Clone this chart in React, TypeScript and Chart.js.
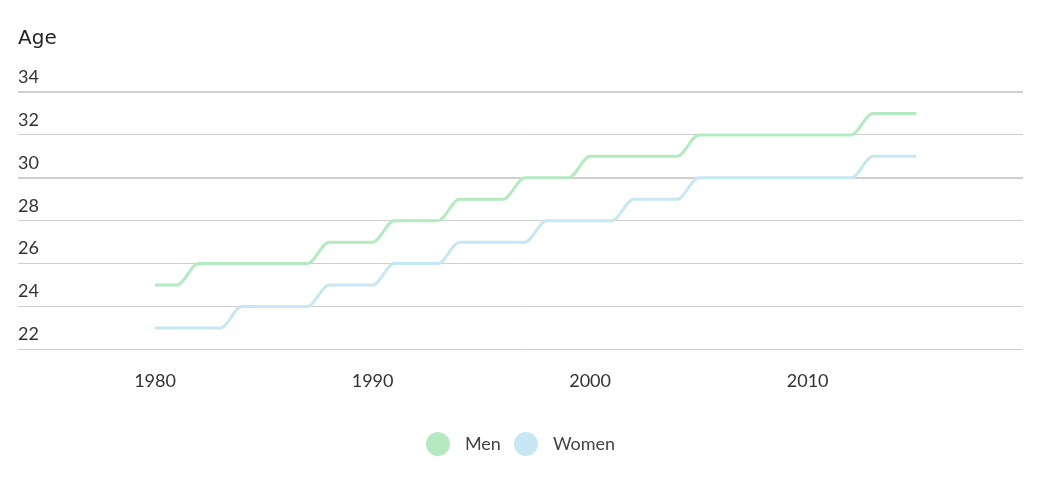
import { useEffect, useRef } from "react"
import { Chart, registerables } from "chart.js"

Chart.register(...registerables)

const years = [
  1980, 1981, 1982, 1983, 1984, 1985, 1986, 1987, 1988, 1989, 1990, 1991,
  1992, 1993, 1994, 1995, 1996, 1997, 1998, 1999, 2000, 2001, 2002, 2003,
  2004, 2005, 2006, 2007, 2008, 2009, 2010, 2011, 2012, 2013, 2014, 2015,
]
const men = [
  25, 25, 26, 26, 26, 26, 26, 26, 27, 27, 27, 28,
  28, 28, 29, 29, 29, 30, 30, 30, 31, 31, 31, 31,
  31, 32, 32, 32, 32, 32, 32, 32, 32, 33, 33, 33,
]
const women = [
  23, 23, 23, 23, 24, 24, 24, 24, 25, 25, 25, 26,
  26, 26, 27, 27, 27, 27, 28, 28, 28, 28, 29, 29,
  29, 30, 30, 30, 30, 30, 30, 30, 30, 31, 31, 31,
]
const seriesNames = ["Men", "Women"]
const seriesColors = ["#b5e9c0", "#c6e7f3"]
const yTicks = [22, 24, 26, 28, 30, 32, 34]

const FONT = "Lato, 'Noto Sans', sans-serif"

// legend marker: a circle with some room on its right before the text
function legendMarker(color: string) {
  const c = document.createElement("canvas")
  c.width = 30
  c.height = 24
  const g = c.getContext("2d")
  if (g) {
    g.fillStyle = color
    g.beginPath()
    g.arc(12, 12, 12, 0, Math.PI * 2)
    g.fill()
  }
  return c
}

export default function App() {
  const chartRef = useRef<HTMLCanvasElement>(null)
  const chartInstance = useRef<Chart | null>(null)

  useEffect(() => {
    document.body.style.margin = "0"
    if (!chartRef.current) return
    if (chartInstance.current) chartInstance.current.destroy()

    const ctx = chartRef.current.getContext("2d")
    if (!ctx) return

    const values = [men, women]

    chartInstance.current = new Chart(ctx, {
      type: "line",
      data: {
        labels: years,
        datasets: seriesNames.map((name, i) => ({
          label: name,
          data: years.map((y, j) => ({ x: y, y: values[i][j] })),
          borderColor: seriesColors[i],
          backgroundColor: seriesColors[i],
          borderWidth: 3,
          pointRadius: 0,
          cubicInterpolationMode: "monotone" as const,
          fill: false,
        })),
      },
      options: {
        animation: false,
        responsive: true,
        maintainAspectRatio: false,
        layout: {
          padding: { left: 18, right: 33, top: 0, bottom: 34 },
        },
        scales: {
          x: {
            type: "linear",
            min: 1973.7,
            max: 2019.9,
            grid: { display: false },
            border: { display: false },
            // empty title only used as spacing under the tick labels
            title: { display: true, text: "", font: { size: 17, lineHeight: 1 }, padding: 0 },
            ticks: {
              stepSize: 10,
              includeBounds: false,
              padding: 13,
              color: "#333",
              font: { family: FONT, size: 18 },
              callback: (v) => String(v),
            },
          },
          y: {
            min: 22,
            max: 34,
            afterBuildTicks: (axis) => {
              axis.ticks = yTicks.map((v) => ({ value: v }))
            },
            grid: {
              drawTicks: false,
              color: "#cfcfcf",
              lineWidth: (c) => (c.tick && (c.tick.value === 34 || c.tick.value === 30) ? 2 : 1),
            },
            border: { display: false },
            ticks: {
              mirror: true,
              padding: 0,
              labelOffset: -15,
              color: "#333",
              font: { family: FONT, size: 18 },
              callback: (v) => String(v),
            },
          },
        },
        plugins: {
          title: {
            display: true,
            text: "Age",
            align: "start",
            color: "#222",
            font: { family: "'DejaVu Sans', sans-serif", size: 20, weight: "normal" },
            padding: { top: 27, bottom: 41 },
          },
          legend: {
            position: "bottom",
            labels: {
              usePointStyle: true,
              pointStyleWidth: 30,
              padding: 13,
              color: "#444",
              font: { family: FONT, size: 18 },
              generateLabels: (chart) =>
                Chart.defaults.plugins.legend.labels.generateLabels(chart).map((item, i) => ({
                  ...item,
                  pointStyle: legendMarker(seriesColors[i]),
                })),
            },
          },
          tooltip: { enabled: false },
        },
      },
    })

    return () => {
      if (chartInstance.current) {
        chartInstance.current.destroy()
        chartInstance.current = null
      }
    }
  }, [])

  return (
    <div style={{ width: "1056px", height: "497px", position: "relative" }}>
      <canvas ref={chartRef} />
    </div>
  )
}
